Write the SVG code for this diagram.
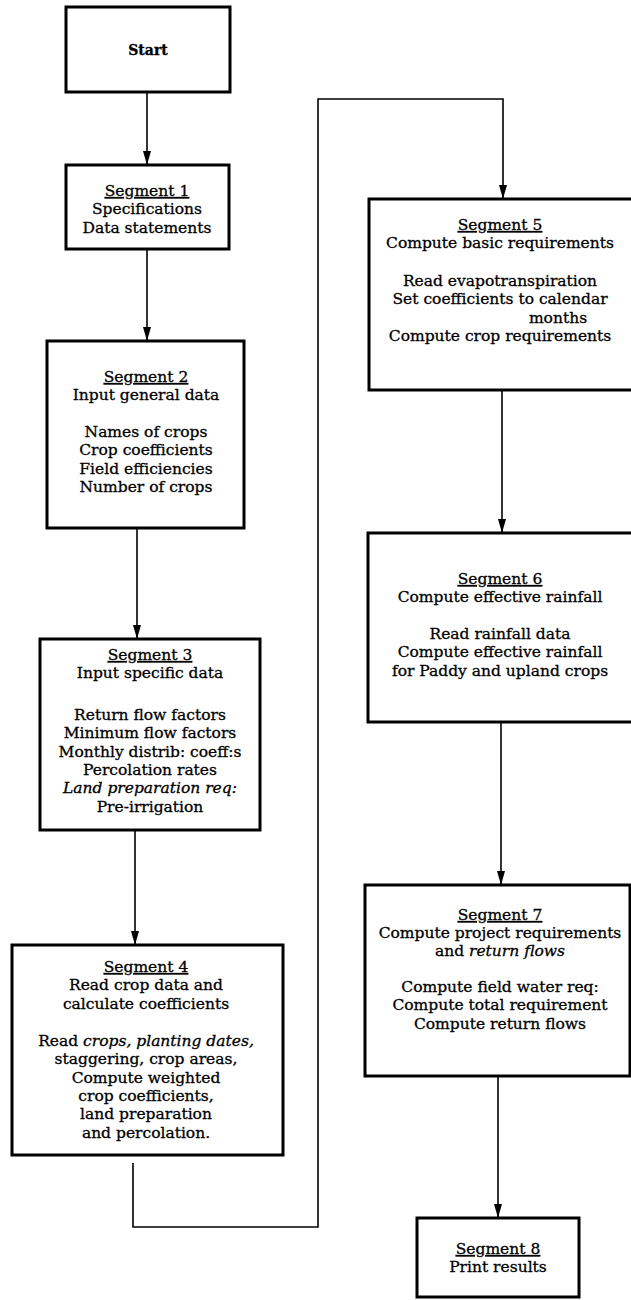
<svg xmlns="http://www.w3.org/2000/svg" width="631" height="1300" viewBox="0 0 631 1300">
  <style>
    .box { fill: #fff; stroke: #000; stroke-width: 3; }
    .t { font-family: "DejaVu Serif", "Liberation Serif", serif; font-size: 15.5px; text-anchor: middle; fill: #000; stroke: #000; stroke-width: 0.3; }
    .hd { text-decoration: underline; }
    .it { font-style: italic; }
    .b { font-weight: bold; font-size: 14px; }
    .conn { fill: none; stroke: #000; stroke-width: 1.6; }
  </style>
  <defs>
    <marker id="arr" viewBox="0 0 14 8" refX="14" refY="4" markerWidth="14" markerHeight="8" markerUnits="userSpaceOnUse" orient="auto">
      <path d="M0,0 L14,4 L0,8 z" fill="#000"/>
    </marker>
  </defs>
  <rect width="631" height="1300" fill="#fff"/>

  <!-- connectors -->
  <g id="connectors">
    <path class="conn" d="M147,92 V165" marker-end="url(#arr)"/>
    <path class="conn" d="M147,249 V341" marker-end="url(#arr)"/>
    <path class="conn" d="M137,528 V639" marker-end="url(#arr)"/>
    <path class="conn" d="M135,830 V945" marker-end="url(#arr)"/>
    <path class="conn" d="M133,1163 V1227 H318 V99 H503 V199" marker-end="url(#arr)"/>
    <path class="conn" d="M502,390 V533" marker-end="url(#arr)"/>
    <path class="conn" d="M501,722 V885" marker-end="url(#arr)"/>
    <path class="conn" d="M498,1076 V1218" marker-end="url(#arr)"/>
  </g>

  <g id="start">
    <rect class="box" x="66" y="7" width="164" height="85"/>
    <text class="t b" x="148" y="55">Start</text>
  </g>

  <g id="segment1">
    <rect class="box" x="66" y="165" width="163" height="84"/>
    <text class="t" x="147" y="196"><tspan class="hd">Segment 1</tspan></text>
    <text class="t" x="147" y="214.3">Specifications</text>
    <text class="t" x="147" y="232.6">Data statements</text>
  </g>

  <g id="segment2">
    <rect class="box" x="47" y="341" width="197" height="187"/>
    <text class="t" x="146" y="382"><tspan class="hd">Segment 2</tspan></text>
    <text class="t" x="146" y="400.3">Input general data</text>
    <text class="t" x="146" y="437">Names of crops</text>
    <text class="t" x="146" y="455.3">Crop coefficients</text>
    <text class="t" x="146" y="473.6">Field efficiencies</text>
    <text class="t" x="146" y="492">Number of crops</text>
  </g>

  <g id="segment3">
    <rect class="box" x="40" y="639" width="220" height="191"/>
    <text class="t" x="150" y="660"><tspan class="hd">Segment 3</tspan></text>
    <text class="t" x="150" y="678.3">Input specific data</text>
    <text class="t" x="150" y="720">Return flow factors</text>
    <text class="t" x="150" y="738.3">Minimum flow factors</text>
    <text class="t" x="150" y="756.6">Monthly distrib: coeff:s</text>
    <text class="t" x="150" y="775">Percolation rates</text>
    <text class="t it" x="150" y="793.3">Land preparation req:</text>
    <text class="t" x="150" y="811.6">Pre-irrigation</text>
  </g>

  <g id="segment4">
    <rect class="box" x="12" y="945" width="271" height="210"/>
    <text class="t" x="146" y="972"><tspan class="hd">Segment 4</tspan></text>
    <text class="t" x="146" y="990.3">Read crop data and</text>
    <text class="t" x="146" y="1008.6">calculate coefficients</text>
    <text class="t" x="146" y="1046">Read <tspan class="it">crops, planting dates,</tspan></text>
    <text class="t" x="146" y="1064.3">staggering, crop areas,</text>
    <text class="t" x="146" y="1082.6">Compute weighted</text>
    <text class="t" x="146" y="1100.9">crop coefficients,</text>
    <text class="t" x="146" y="1119.2">land preparation</text>
    <text class="t" x="146" y="1137.5">and percolation.</text>
  </g>

  <g id="segment5">
    <rect class="box" x="369" y="199" width="265" height="191"/>
    <text class="t" x="500" y="230"><tspan class="hd">Segment 5</tspan></text>
    <text class="t" x="500" y="248.3">Compute basic requirements</text>
    <text class="t" x="500" y="286">Read evapotranspiration</text>
    <text class="t" x="500" y="304.3">Set coefficients to calendar</text>
    <text class="t" x="558" y="322.6">months</text>
    <text class="t" x="500" y="341">Compute crop requirements</text>
  </g>

  <g id="segment6">
    <rect class="box" x="368" y="533" width="266" height="189"/>
    <text class="t" x="500" y="584"><tspan class="hd">Segment 6</tspan></text>
    <text class="t" x="500" y="602.3">Compute effective rainfall</text>
    <text class="t" x="500" y="639">Read rainfall data</text>
    <text class="t" x="500" y="657.3">Compute effective rainfall</text>
    <text class="t" x="500" y="675.6">for Paddy and upland crops</text>
  </g>

  <g id="segment7">
    <rect class="box" x="365" y="885" width="265" height="191"/>
    <text class="t" x="500" y="920"><tspan class="hd">Segment 7</tspan></text>
    <text class="t" x="500" y="938">Compute project requirements</text>
    <text class="t" x="500" y="956">and <tspan class="it">return flows</tspan></text>
    <text class="t" x="500" y="992">Compute field water req:</text>
    <text class="t" x="500" y="1010.3">Compute total requirement</text>
    <text class="t" x="500" y="1028.6">Compute return flows</text>
  </g>

  <g id="segment8">
    <rect class="box" x="417" y="1218" width="162" height="79"/>
    <text class="t" x="498" y="1254"><tspan class="hd">Segment 8</tspan></text>
    <text class="t" x="498" y="1272.3">Print results</text>
  </g>
</svg>
